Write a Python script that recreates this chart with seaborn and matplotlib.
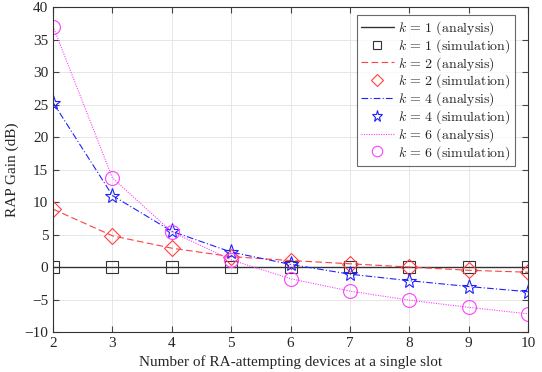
import matplotlib
matplotlib.use('Agg')
import matplotlib.pyplot as plt
import numpy as np
import seaborn as sns

devices = [2, 3, 4, 5, 6, 7, 8, 9, 10]
gain_k1 = [0, 0, 0, 0, 0, 0, 0, 0, 0]
gain_k2 = [8.9, 4.8, 2.9, 1.6, 1.0, 0.5, 0.0, -0.5, -0.8]
gain_k4 = [25.3, 11.0, 5.5, 2.3, 0.4, -1.1, -2.1, -3.0, -3.8]
gain_k6 = [37.0, 13.7, 5.4, 1.1, -1.8, -3.7, -5.1, -6.2, -7.2]

sns.set_style("ticks")
plt.rcParams['font.family'] = ['Liberation Serif', 'DejaVu Serif']
plt.rcParams['mathtext.fontset'] = 'cm'

fig = plt.figure(figsize=(5.42, 3.72), dpi=100)
ax = fig.add_axes([0.098, 0.1075, 0.876, 0.8735])

series = [
    (1, gain_k1, "#333333", "-", "s", 1.0),
    (2, gain_k2, "#ff4040", (0, (6, 3)), "D", 0.8),
    (4, gain_k4, "#2020ff", (0, (6, 2, 1, 2)), "*", 0.8),
    (6, gain_k6, "#ff40ff", (0, (1, 1.2)), "o", 0.8),
]
msizes = {"s": 8, "D": 8, "*": 11, "o": 10}

for k, vals, col, ls, mk, lw in series:
    sns.lineplot(x=devices, y=vals, ax=ax, color=col, linestyle=ls, linewidth=lw,
                 label=r"$k\,=\,%d\ \mathrm{(analysis)}$" % k)
    sns.lineplot(x=devices, y=vals, ax=ax, color=col, linestyle="none", marker=mk,
                 markersize=msizes[mk], markerfacecolor="none", markeredgecolor=col,
                 markeredgewidth=0.8, label=r"$k\,=\,%d\ \mathrm{(simulation)}$" % k)

ax.set_xlim(2, 10)
ax.set_ylim(-10, 40)
ax.set_xticks(devices)
ax.set_yticks(np.arange(-10, 41, 5))
ax.grid(True, color="#e6e6e6", linewidth=0.7)
ax.tick_params(direction="in", top=True, right=True, labelsize=11, length=4, color="#444444")
for sp in ax.spines.values():
    sp.set_visible(True)
    sp.set_color("#333333")
    sp.set_linewidth(0.8)
ax.set_xlabel("Number of RA-attempting devices at a single slot", fontsize=11)
ax.set_ylabel("RAP Gain (dB)", fontsize=11)

leg = ax.legend(loc="upper right", fontsize=10, frameon=True, fancybox=False,
                handlelength=2.4, labelspacing=0.0, borderpad=0.3, handletextpad=0.3,
                borderaxespad=0, bbox_to_anchor=(0.973, 0.975), markerscale=0.75)
leg.get_frame().set_edgecolor("#444444")
leg.get_frame().set_linewidth(0.8)

fig.savefig("out.png", dpi=100)
